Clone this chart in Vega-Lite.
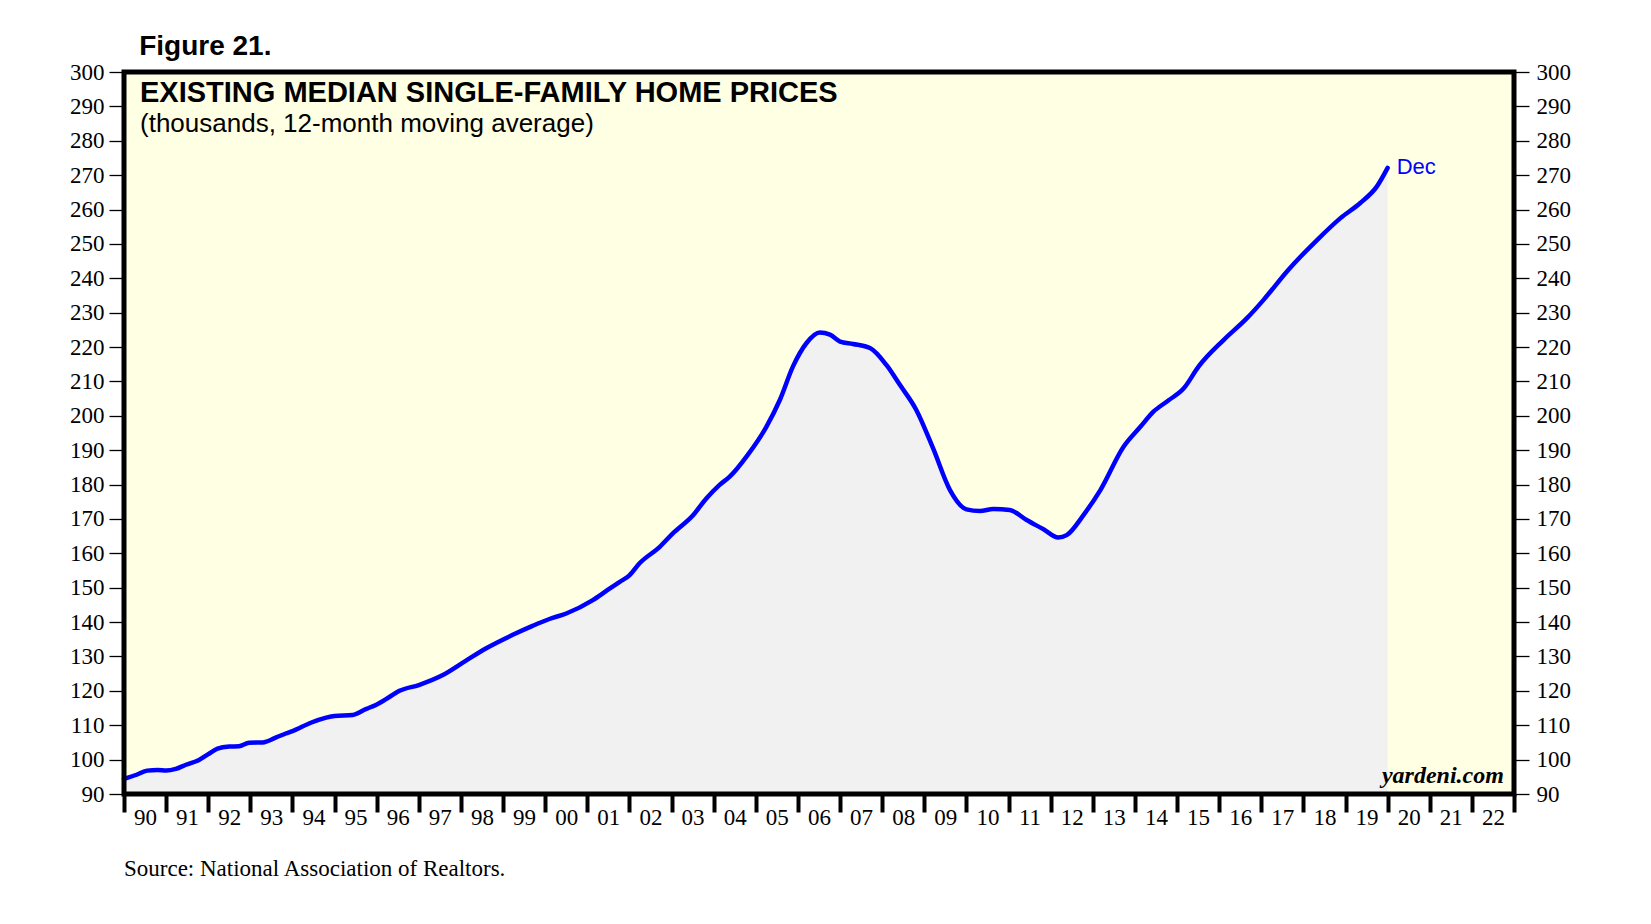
{
  "$schema": "https://vega.github.io/schema/vega-lite/v6.json",
  "width": 1390,
  "height": 722,
  "autosize": {"type": "none"},
  "padding": {"left": 124, "top": 72, "right": 137, "bottom": 130},
  "background": "#FFFFFF",
  "config": {
    "view": {"fill": "#FFFFE3", "stroke": null},
    "axis": {"labelFont": "Liberation Serif", "labelFontSize": 23, "labelColor": "#000000", "tickColor": "#000000", "domain": false, "grid": false, "title": null}
  },
  "data": {"values": [
    {"t": 1990.0, "v": 94.4}, {"t": 1990.3, "v": 95.6}, {"t": 1990.55, "v": 96.8}, {"t": 1990.8, "v": 97.0},
    {"t": 1991.0, "v": 96.8}, {"t": 1991.23, "v": 97.3}, {"t": 1991.47, "v": 98.5}, {"t": 1991.78, "v": 99.9},
    {"t": 1992.0, "v": 101.6}, {"t": 1992.22, "v": 103.2}, {"t": 1992.5, "v": 103.8}, {"t": 1992.73, "v": 103.9},
    {"t": 1992.97, "v": 104.9}, {"t": 1993.29, "v": 105.0}, {"t": 1993.6, "v": 106.4}, {"t": 1993.84, "v": 107.6},
    {"t": 1994.0, "v": 108.3}, {"t": 1994.45, "v": 110.8}, {"t": 1994.8, "v": 112.2}, {"t": 1995.0, "v": 112.7},
    {"t": 1995.43, "v": 113.0}, {"t": 1995.74, "v": 114.7}, {"t": 1995.98, "v": 115.9}, {"t": 1996.3, "v": 118.2},
    {"t": 1996.54, "v": 120.0}, {"t": 1997.0, "v": 121.7}, {"t": 1997.57, "v": 124.6}, {"t": 1998.12, "v": 128.8},
    {"t": 1998.6, "v": 132.4}, {"t": 1999.23, "v": 136.3}, {"t": 1999.7, "v": 138.9}, {"t": 2000.1, "v": 140.9},
    {"t": 2000.5, "v": 142.5}, {"t": 2001.13, "v": 146.4}, {"t": 2001.5, "v": 149.5}, {"t": 2001.77, "v": 151.7},
    {"t": 2002.0, "v": 153.6}, {"t": 2002.24, "v": 157.1}, {"t": 2002.72, "v": 161.9}, {"t": 2003.03, "v": 165.8},
    {"t": 2003.51, "v": 171.1}, {"t": 2003.83, "v": 176.0}, {"t": 2004.14, "v": 179.9}, {"t": 2004.38, "v": 182.3},
    {"t": 2004.8, "v": 188.5}, {"t": 2005.25, "v": 196.8}, {"t": 2005.57, "v": 204.6}, {"t": 2005.88, "v": 214.3},
    {"t": 2006.2, "v": 221.1}, {"t": 2006.52, "v": 224.2}, {"t": 2006.76, "v": 223.6}, {"t": 2007.0, "v": 221.6},
    {"t": 2007.31, "v": 220.9}, {"t": 2007.71, "v": 219.7}, {"t": 2008.1, "v": 214.8}, {"t": 2008.42, "v": 209.0},
    {"t": 2008.81, "v": 201.7}, {"t": 2009.21, "v": 190.5}, {"t": 2009.61, "v": 178.4}, {"t": 2010.0, "v": 172.8},
    {"t": 2010.32, "v": 172.3}, {"t": 2010.64, "v": 172.9}, {"t": 2011.03, "v": 172.6}, {"t": 2011.43, "v": 169.7},
    {"t": 2011.83, "v": 167.0}, {"t": 2012.18, "v": 164.6}, {"t": 2012.38, "v": 165.3}, {"t": 2012.8, "v": 171.5},
    {"t": 2013.18, "v": 178.4}, {"t": 2013.73, "v": 191.0}, {"t": 2014.13, "v": 196.8}, {"t": 2014.44, "v": 201.2},
    {"t": 2014.8, "v": 204.5}, {"t": 2015.16, "v": 208.0}, {"t": 2015.51, "v": 214.3}, {"t": 2016.11, "v": 222.1},
    {"t": 2016.66, "v": 228.4}, {"t": 2017.06, "v": 233.8}, {"t": 2017.61, "v": 242.0}, {"t": 2018.33, "v": 251.2},
    {"t": 2018.88, "v": 257.5}, {"t": 2019.35, "v": 261.9}, {"t": 2019.75, "v": 266.8}, {"t": 2020.0, "v": 272.1}
  ]},
  "layer": [
    {
      "mark": {"type": "area", "color": "#F1F1F1", "opacity": 1, "interpolate": "monotone"},
      "encoding": {
        "x": {"field": "t", "type": "quantitative", "scale": {"domain": [1990, 2023], "nice": false, "zero": false},
          "axis": {"orient": "bottom", "values": [1990,1991,1992,1993,1994,1995,1996,1997,1998,1999,2000,2001,2002,2003,2004,2005,2006,2007,2008,2009,2010,2011,2012,2013,2014,2015,2016,2017,2018,2019,2020,2021,2022,2023],
            "labelExpr": "datum.value >= 2023 ? '' : format(datum.value % 100, '02')",
            "tickSize": 18, "tickWidth": 4, "labelOffset": 21, "labelPadding": 12, "labelBaseline": "alphabetic", "labelAlign": "center", "labelOverlap": false, "labelFlush": false}},
        "y": {"field": "v", "type": "quantitative", "scale": {"domain": [90, 300], "nice": false, "zero": false},
          "axis": {"orient": "left", "values": [90,100,110,120,130,140,150,160,170,180,190,200,210,220,230,240,250,260,270,280,290,300], "tickSize": 15, "tickWidth": 1.3, "labelPadding": 5, "labelOverlap": false, "labelFlush": false, "labelBaseline": "middle"}},
        "y2": {"datum": 90}
      }
    },
    {
      "mark": {"type": "line", "color": "#0000FF", "strokeWidth": 4.5, "strokeJoin": "round", "strokeCap": "round", "interpolate": "monotone"},
      "encoding": {
        "x": {"field": "t", "type": "quantitative"},
        "y": {"field": "v", "type": "quantitative",
          "axis": {"orient": "right", "values": [90,100,110,120,130,140,150,160,170,180,190,200,210,220,230,240,250,260,270,280,290,300], "tickSize": 15, "tickWidth": 1.3, "labelPadding": 7, "labelOverlap": false, "labelFlush": false, "labelBaseline": "middle"}}
      }
    },
    {
      "data": {"values": [{}]},
      "mark": {"type": "rect", "fill": null, "fillOpacity": 0, "stroke": "#000000", "strokeWidth": 5},
      "encoding": {"x": {"datum": 1990}, "x2": {"datum": 2023}, "y": {"datum": 90, "axis": null}, "y2": {"datum": 300}}
    },
    {
      "transform": [{"filter": "datum.t >= 2020"}],
      "mark": {"type": "text", "font": "Liberation Sans", "fontSize": 22, "color": "#0000FF", "align": "left", "baseline": "middle", "dx": 9, "dy": -1},
      "encoding": {
        "x": {"field": "t", "type": "quantitative"},
        "y": {"field": "v", "type": "quantitative", "axis": null},
        "text": {"value": "Dec"}
      }
    },
    {
      "data": {"values": [{}]},
      "mark": {"type": "text", "font": "Liberation Sans", "fontWeight": "bold", "fontSize": 28, "color": "#000000", "align": "left", "baseline": "alphabetic"},
      "encoding": {"x": {"datum": 1990.36}, "y": {"datum": 304.9, "axis": null}, "text": {"value": "Figure 21."}}
    },
    {
      "data": {"values": [{}]},
      "mark": {"type": "text", "font": "Liberation Sans", "fontWeight": "bold", "fontSize": 29, "color": "#000000", "align": "left", "baseline": "alphabetic"},
      "encoding": {"x": {"datum": 1990.38}, "y": {"datum": 291.3, "axis": null}, "text": {"value": "EXISTING MEDIAN SINGLE-FAMILY HOME PRICES"}}
    },
    {
      "data": {"values": [{}]},
      "mark": {"type": "text", "font": "Liberation Sans", "fontSize": 26, "color": "#000000", "align": "left", "baseline": "alphabetic"},
      "encoding": {"x": {"datum": 1990.38}, "y": {"datum": 282.6, "axis": null}, "text": {"value": "(thousands, 12-month moving average)"}}
    },
    {
      "data": {"values": [{}]},
      "mark": {"type": "text", "font": "Liberation Serif", "fontWeight": "bold", "fontStyle": "italic", "fontSize": 24, "color": "#000000", "align": "right", "baseline": "alphabetic"},
      "encoding": {"x": {"datum": 2022.76}, "y": {"datum": 93.2, "axis": null}, "text": {"value": "yardeni.com"}}
    },
    {
      "data": {"values": [{}]},
      "mark": {"type": "text", "font": "Liberation Serif", "fontSize": 23, "color": "#000000", "align": "left", "baseline": "alphabetic"},
      "encoding": {"x": {"datum": 1990.0}, "y": {"datum": 66.1, "axis": null}, "text": {"value": "Source: National Association of Realtors."}}
    }
  ],
  "resolve": {"axis": {"y": "independent"}}
}
